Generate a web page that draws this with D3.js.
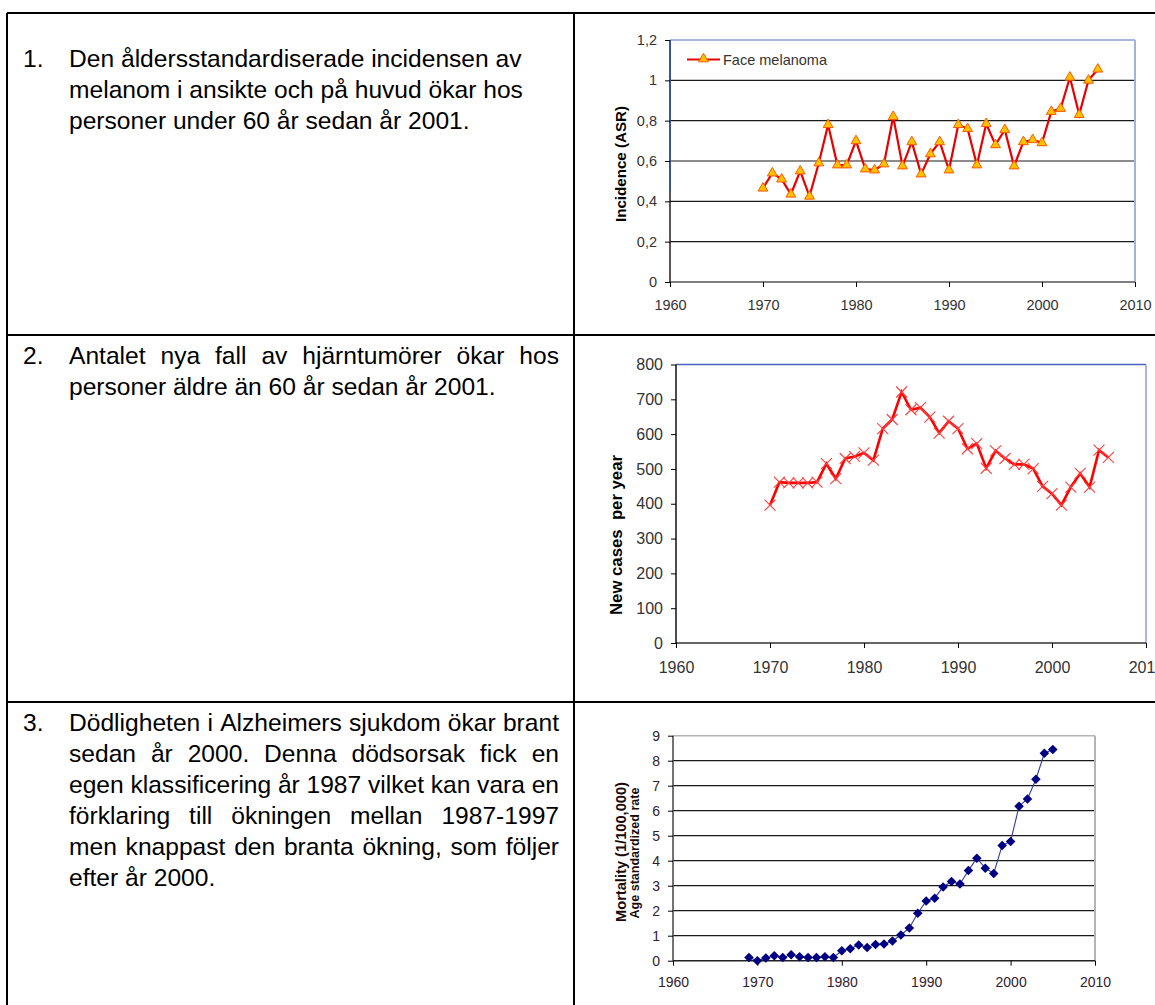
<!DOCTYPE html>
<html><head><meta charset="utf-8">
<script src="https://cdn.jsdelivr.net/npm/d3@7/dist/d3.min.js"></script>
<style>
html,body{margin:0;padding:0;background:#fff;overflow:hidden}
svg{display:block}
text{font-family:"Liberation Sans",Arial,sans-serif}
</style></head>
<body>
<script>
// ---------- DATA ----------
const years1 = [1970,1971,1972,1973,1974,1975,1976,1977,1978,1979,1980,1981,1982,1983,1984,1985,1986,1987,1988,1989,1990,1991,1992,1993,1994,1995,1996,1997,1998,1999,2000,2001,2002,2003,2004,2005,2006];
const melanoma = [0.465,0.54,0.51,0.435,0.55,0.425,0.59,0.78,0.58,0.58,0.70,0.56,0.555,0.585,0.82,0.575,0.695,0.535,0.635,0.695,0.555,0.78,0.76,0.58,0.785,0.68,0.755,0.575,0.695,0.705,0.69,0.845,0.86,1.015,0.83,1.0,1.055];
const years2 = [1970,1971,1972,1973,1974,1975,1976,1977,1978,1979,1980,1981,1982,1983,1984,1985,1986,1987,1988,1989,1990,1991,1992,1993,1994,1995,1996,1997,1998,1999,2000,2001,2002,2003,2004,2005,2006];
const brainCases = [396,462,460,460,460,462,515,472,530,536,546,525,616,642,721,670,676,649,603,637,616,558,573,502,552,530,513,513,501,450,429,396,448,487,448,554,533];
const years3 = [1969,1970,1971,1972,1973,1974,1975,1976,1977,1978,1979,1980,1981,1982,1983,1984,1985,1986,1987,1988,1989,1990,1991,1992,1993,1994,1995,1996,1997,1998,1999,2000,2001,2002,2003,2004,2005];
const alzMortality = [0.13,0.0,0.11,0.2,0.13,0.24,0.16,0.13,0.13,0.16,0.13,0.40,0.48,0.63,0.53,0.65,0.67,0.79,1.03,1.31,1.90,2.39,2.50,2.95,3.17,3.07,3.61,4.10,3.70,3.49,4.61,4.77,6.18,6.47,7.26,8.30,8.45];

const xTicks = [1960,1970,1980,1990,2000,2010];
const yTicks1 = [0,0.2,0.4,0.6,0.8,1.0,1.2];
const yTicks2 = [0,100,200,300,400,500,600,700,800];
const yTicks3 = [0,1,2,3,4,5,6,7,8,9];

const para1 = [
  {t:"Den åldersstandardiserade incidensen av", j:false},
  {t:"melanom i ansikte och på huvud ökar hos", j:false},
  {t:"personer under 60 år sedan år 2001.", j:false}
];
const para2 = [
  {t:"Antalet nya fall av hjärntumörer ökar hos", j:true},
  {t:"personer äldre än 60 år sedan år 2001.", j:false}
];
const para3 = [
  {t:"Dödligheten i Alzheimers sjukdom ökar brant", j:true},
  {t:"sedan år 2000. Denna dödsorsak fick en", j:true},
  {t:"egen klassificering år 1987 vilket kan vara en", j:true},
  {t:"förklaring till ökningen mellan 1987-1997", j:true},
  {t:"men knappast den branta ökning, som följer", j:true},
  {t:"efter år 2000.", j:false}
];

// ---------- SETUP ----------
const W = 1155, H = 1005;
const svg = d3.select("body").append("svg").attr("width", W).attr("height", H);

// table grid
const grid = svg.append("g").attr("stroke", "#000").attr("stroke-width", 2).attr("fill", "none");
grid.append("line").attr("x1", 7).attr("x2", W + 5).attr("y1", 13).attr("y2", 13);
grid.append("line").attr("x1", 7).attr("x2", 7).attr("y1", 13).attr("y2", H + 5);
grid.append("line").attr("x1", 574).attr("x2", 574).attr("y1", 13).attr("y2", H + 5);
grid.append("line").attr("x1", 7).attr("x2", W + 5).attr("y1", 335).attr("y2", 335);
grid.append("line").attr("x1", 7).attr("x2", W + 5).attr("y1", 702).attr("y2", 702);

// paragraph text
const FS = 24.6, LH = 31, TX = 69, TR = 559;
function paragraph(num, lines, baseline0) {
  const g = svg.append("g").attr("font-size", FS).attr("fill", "#000");
  g.append("text").attr("x", 23).attr("y", baseline0).text(num);
  lines.forEach((ln, i) => {
    const y = baseline0 + i * LH;
    if (!ln.j) {
      g.append("text").attr("x", TX).attr("y", y).text(ln.t);
    } else {
      const words = ln.t.split(" ");
      const nodes = words.map(w => g.append("text").attr("y", y).text(w));
      const widths = nodes.map(n => n.node().getComputedTextLength());
      const total = d3.sum(widths);
      const gap = (TR - TX - total) / (words.length - 1);
      let x = TX;
      nodes.forEach((n, k) => { n.attr("x", x); x += widths[k] + gap; });
    }
  });
}
paragraph("1.", para1, 67);
paragraph("2.", para2, 364);
paragraph("3.", para3, 731);

// ---------- helpers ----------
function axes(g, x, y, yTicks, fmt, fs, tickColor, xPad) {
  const ax = g.append("g").attr("transform", `translate(0,${y.range()[0]})`)
    .call(d3.axisBottom(x).tickValues(xTicks).tickSize(5).tickPadding(xPad).tickFormat(d3.format("d")));
  const ay = g.append("g").attr("transform", `translate(${x.range()[0]},0)`)
    .call(d3.axisLeft(y).tickValues(yTicks).tickSize(5).tickPadding(8).tickFormat(fmt));
  [ax, ay].forEach(a => {
    a.select(".domain").remove();
    a.selectAll("line").attr("stroke", "#000");
    a.selectAll("text").attr("font-size", fs).attr("fill", tickColor).attr("font-family", '"Liberation Sans",Arial,sans-serif');
  });
  return {ax, ay};
}

const commaLocale = d3.formatLocale({decimal: ",", thousands: " ", grouping: [3], currency: ["", ""]});
const fmtComma = commaLocale.format("~g");

// ---------- CHART 1 ----------
{
  const x = d3.scaleLinear([1960, 2010], [670, 1135]);
  const y = d3.scaleLinear([0, 1.2], [282, 40]);
  const g = svg.append("g");
  g.append("g").selectAll("line").data(yTicks1.filter(v => v > 0 && v < 1.2)).join("line")
    .attr("x1", x(1960)).attr("x2", x(2010)).attr("y1", d => y(d)).attr("y2", d => y(d))
    .attr("stroke", "#1a1a1a").attr("stroke-width", 1.2);
  g.append("line").attr("x1", x(1960)).attr("x2", x(2010)).attr("y1", y(1.2)).attr("y2", y(1.2))
    .attr("stroke", "#8aa0d0").attr("stroke-width", 1.5);
  g.append("line").attr("x1", x(2010)).attr("x2", x(2010)).attr("y1", y(1.2)).attr("y2", y(0))
    .attr("stroke", "#9fb3dc").attr("stroke-width", 2);
  g.append("line").attr("x1", x(1960)).attr("x2", x(2010)).attr("y1", y(0)).attr("y2", y(0))
    .attr("stroke", "#555").attr("stroke-width", 1.5);
  g.append("line").attr("x1", x(1960)).attr("x2", x(1960)).attr("y1", y(1.2)).attr("y2", y(0))
    .attr("stroke", "#2a1a1a").attr("stroke-width", 1.5);
  g.append("line").attr("x1", x(1960)).attr("x2", x(1960)).attr("y1", y(1.2)).attr("y2", y(0.45))
    .attr("stroke", "#2c55b8").attr("stroke-width", 1.5);
  axes(g, x, y, yTicks1, fmtComma, 14.5, "#333", 13);
  const pts = years1.map((yr, i) => [yr, melanoma[i]]);
  g.append("path").datum(pts)
    .attr("d", d3.line().x(d => x(d[0])).y(d => y(d[1])))
    .attr("fill", "none").attr("stroke", "#e80000").attr("stroke-width", 2.2);
  const tri = d3.symbol(d3.symbolTriangle, 42);
  g.append("g").selectAll("path").data(pts).join("path")
    .attr("d", tri).attr("transform", d => `translate(${x(d[0])},${y(d[1])})`)
    .attr("fill", "#ffc000").attr("stroke", "#ff5a00").attr("stroke-width", 1);
  g.append("line").attr("x1", 687).attr("x2", 720).attr("y1", 59.5).attr("y2", 59.5)
    .attr("stroke", "#e80000").attr("stroke-width", 2.2);
  g.append("path").attr("d", tri).attr("transform", "translate(703.5,59)")
    .attr("fill", "#ffc000").attr("stroke", "#ff5a00").attr("stroke-width", 1);
  g.append("text").attr("x", 723).attr("y", 64.5).attr("font-size", 14.5).attr("fill", "#333").text("Face melanoma");
  g.append("text").attr("transform", "translate(626,164) rotate(-90)").attr("text-anchor", "middle")
    .attr("font-size", 15).attr("font-weight", "bold").attr("fill", "#000")
    .attr("textLength", 116).attr("lengthAdjust", "spacingAndGlyphs").text("Incidence (ASR)");
}

// ---------- CHART 2 ----------
{
  const x = d3.scaleLinear([1960, 2010], [676, 1146]);
  const y = d3.scaleLinear([0, 800], [643, 364.5]);
  const g = svg.append("g");
  g.append("line").attr("x1", x(1960)).attr("x2", x(2010)).attr("y1", y(800)).attr("y2", y(800))
    .attr("stroke", "#4a62c0").attr("stroke-width", 1.5);
  g.append("line").attr("x1", x(2010)).attr("x2", x(2010)).attr("y1", y(800)).attr("y2", y(0))
    .attr("stroke", "#8e9fdc").attr("stroke-width", 1.5);
  g.append("line").attr("x1", x(1960)).attr("x2", x(2010)).attr("y1", y(0)).attr("y2", y(0))
    .attr("stroke", "#333").attr("stroke-width", 1.5);
  g.append("line").attr("x1", x(1960)).attr("x2", x(1960)).attr("y1", y(800)).attr("y2", y(0))
    .attr("stroke", "#111").attr("stroke-width", 1.5);
  axes(g, x, y, yTicks2, d3.format("d"), 16, "#333", 14);
  const pts = years2.map((yr, i) => [yr, brainCases[i]]);
  g.append("path").datum(pts)
    .attr("d", d3.line().x(d => x(d[0])).y(d => y(d[1])))
    .attr("fill", "none").attr("stroke", "#ff0000").attr("stroke-width", 2.6);
  const s = 5.5;
  g.append("g").selectAll("path").data(pts).join("path")
    .attr("d", d => { const cx = x(d[0]), cy = y(d[1]);
      return `M${cx - s},${cy - s}L${cx + s},${cy + s}M${cx - s},${cy + s}L${cx + s},${cy - s}`; })
    .attr("stroke", "#ff4040").attr("stroke-width", 1.1).attr("fill", "none");
  g.append("text").attr("transform", "translate(622,535) rotate(-90)").attr("text-anchor", "middle")
    .attr("font-size", 16).attr("font-weight", "bold").attr("fill", "#000")
    .attr("textLength", 160).attr("lengthAdjust", "spacingAndGlyphs")
    .style("white-space", "pre").text("New cases  per year");
}

// ---------- CHART 3 ----------
{
  const x = d3.scaleLinear([1960, 2010], [673, 1095]);
  const y = d3.scaleLinear([0, 9], [960.7, 735.7]);
  const g = svg.append("g");
  g.append("g").selectAll("line").data(yTicks3.filter(v => v > 0 && v < 9)).join("line")
    .attr("x1", x(1960)).attr("x2", x(2010)).attr("y1", d => y(d)).attr("y2", d => y(d))
    .attr("stroke", "#1a1a1a").attr("stroke-width", 1.2);
  g.append("line").attr("x1", x(1960)).attr("x2", x(2010)).attr("y1", y(9)).attr("y2", y(9))
    .attr("stroke", "#b4b4b4").attr("stroke-width", 1.5);
  g.append("line").attr("x1", x(2010)).attr("x2", x(2010)).attr("y1", y(9)).attr("y2", y(0))
    .attr("stroke", "#b4b4b4").attr("stroke-width", 2);
  g.append("line").attr("x1", x(1960)).attr("x2", x(2010)).attr("y1", y(0)).attr("y2", y(0))
    .attr("stroke", "#222").attr("stroke-width", 1.5);
  g.append("line").attr("x1", x(1960)).attr("x2", x(1960)).attr("y1", y(9)).attr("y2", y(0))
    .attr("stroke", "#444").attr("stroke-width", 1.5);
  axes(g, x, y, yTicks3, d3.format("d"), 14, "#302030", 11);
  const pts = years3.map((yr, i) => [yr, alzMortality[i]]);
  g.append("path").datum(pts)
    .attr("d", d3.line().x(d => x(d[0])).y(d => y(d[1])))
    .attr("fill", "none").attr("stroke", "#3038a8").attr("stroke-width", 1.1);
  const sq = d3.symbol(d3.symbolSquare, 46);
  g.append("g").selectAll("path").data(pts).join("path")
    .attr("d", sq).attr("transform", d => `translate(${x(d[0])},${y(d[1])}) rotate(45)`)
    .attr("fill", "#000080");
  g.append("text").attr("transform", "translate(625.5,852) rotate(-90)").attr("text-anchor", "middle")
    .attr("font-size", 14.5).attr("font-weight", "bold").attr("fill", "#1a0a0a")
    .attr("textLength", 140).attr("lengthAdjust", "spacingAndGlyphs").text("Mortality (1/100,000)");
  g.append("text").attr("transform", "translate(638.5,853) rotate(-90)").attr("text-anchor", "middle")
    .attr("font-size", 12).attr("font-weight", "bold").attr("fill", "#1a0a0a")
    .attr("textLength", 131).attr("lengthAdjust", "spacingAndGlyphs").text("Age standardized rate");
}
</script>
</body></html>
